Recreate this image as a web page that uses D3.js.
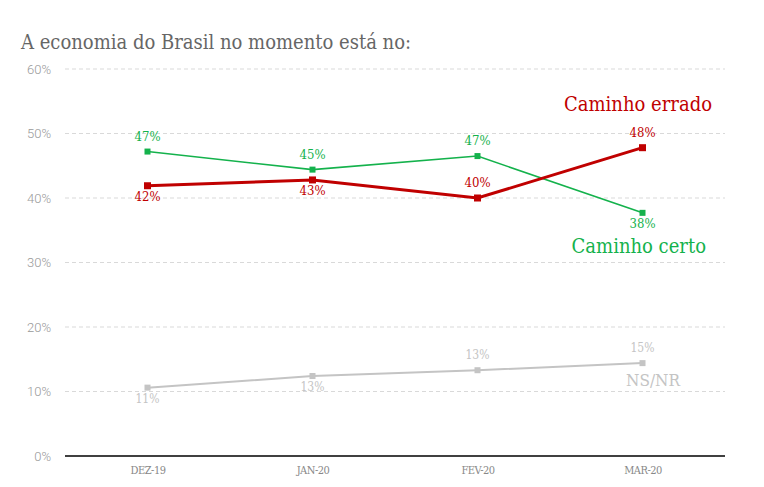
<!DOCTYPE html>
<html>
<head>
<meta charset="utf-8">
<script src="https://cdn.jsdelivr.net/npm/d3@7"></script>
<style>
  body { margin: 0; background: #fff; }
  text { font-family: "Roboto Slab", "DejaVu Serif Condensed", "DejaVu Serif", serif; }
</style>
</head>
<body>
<div id="target"></div>
<script>
// data
const months = ["DEZ-19", "JAN-20", "FEV-20", "MAR-20"]
const certo = [47.2, 44.4, 46.5, 37.7]
const certoLabels = ["47%", "45%", "47%", "38%"]
const errado = [41.9, 42.8, 40.0, 47.8]
const erradoLabels = ["42%", "43%", "40%", "48%"]
const nsnr = [10.6, 12.4, 13.3, 14.4]
const nsnrLabels = ["11%", "13%", "13%", "15%"]
const yTicks = [0, 10, 20, 30, 40, 50, 60]

const width = 764, height = 487
const margin = { top: 69, right: 39, bottom: 31, left: 65 }

let svg = d3.select("#target").append("svg")
svg.attr("width", width).attr("height", height)

svg.append("text")
    .attr("x", 21).attr("y", 49)
    .attr("font-size", 20)
    .attr("fill", "#666")
    .text("A economia do Brasil no momento está no:")

let x = d3.scalePoint().domain(months).range([margin.left, width - margin.right]).padding(0.5)
let y = d3.scaleLinear().domain([0, 60]).range([height - margin.bottom, margin.top])

// grid
let grid = svg.append("g")
grid.selectAll("line").data(yTicks.filter(d => d > 0)).enter().append("line")
    .attr("x1", margin.left).attr("x2", width - margin.right)
    .attr("y1", d => y(d)).attr("y2", d => y(d))
    .attr("stroke", "#d9d9d9").attr("stroke-dasharray", "4,3")

// y axis labels
let yAxis = svg.append("g").attr("transform", `translate(${margin.left - 14},0)`)
    .call(d3.axisLeft(y).tickValues(yTicks).tickFormat(d => d + "%").tickSize(0).tickPadding(0))
yAxis.select(".domain").remove()
yAxis.selectAll("text").attr("font-size", 13).attr("fill", "#999")
    .style("font-family", "Roboto, sans-serif").style("font-weight", 300)

// x axis
let xAxis = svg.append("g").attr("transform", `translate(0,${y(0)})`)
    .call(d3.axisBottom(x).tickSize(0).tickPadding(10))
xAxis.select(".domain").remove()
xAxis.append("line").attr("x1", margin.left).attr("x2", width - margin.right)
    .attr("stroke", "#000").attr("stroke-width", 1.5)
xAxis.selectAll("text").attr("font-size", 11).attr("fill", "#888")
    .attr("letter-spacing", -0.5)

let line = d3.line().x((d, i) => x(months[i])).y(d => y(d))

let drawSeries = (vals, labels, color, lw, sq, above, fs) => {
    let g = svg.append("g")
    g.append("path").datum(vals).attr("d", line)
        .attr("fill", "none").attr("stroke", color).attr("stroke-width", lw)
    g.selectAll("rect").data(vals).enter().append("rect")
        .attr("x", (d, i) => x(months[i]) - sq / 2)
        .attr("y", d => y(d) - sq / 2)
        .attr("width", sq).attr("height", sq)
        .attr("fill", color)
    g.selectAll("text").data(vals).enter().append("text")
        .attr("x", (d, i) => x(months[i]))
        .attr("y", (d, i) => above[i] ? y(d) - 11 : y(d) + 15)
        .attr("text-anchor", "middle")
        .attr("font-size", fs)
        .attr("fill", color)
        .text((d, i) => labels[i])
}

drawSeries(nsnr, nsnrLabels, "#c4c4c4", 2, 6, [false, false, true, true], 12)
drawSeries(certo, certoLabels, "#14b24c", 1.6, 6, [true, true, true, false], 13)
drawSeries(errado, erradoLabels, "#c00000", 3, 7, [false, false, true, true], 13)

svg.append("text").attr("x", 712).attr("y", 111).attr("text-anchor", "end")
    .attr("font-size", 20).attr("fill", "#c00000").text("Caminho errado")
svg.append("text").attr("x", 706).attr("y", 253).attr("text-anchor", "end")
    .attr("font-size", 20).attr("fill", "#14b24c").text("Caminho certo")
svg.append("text").attr("x", 680).attr("y", 386).attr("text-anchor", "end")
    .attr("font-size", 17).attr("fill", "#c4c4c4").text("NS/NR")
</script>
</body>
</html>
